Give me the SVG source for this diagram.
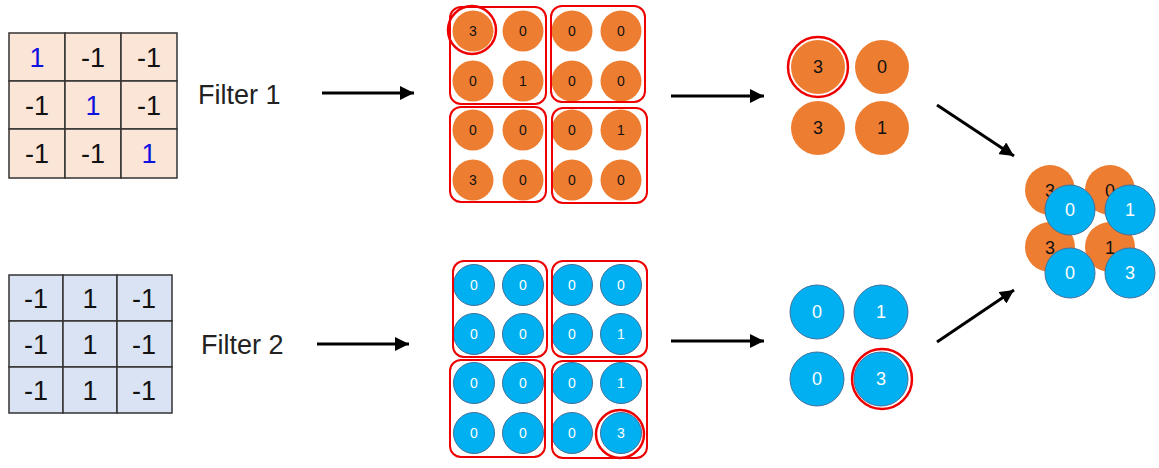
<svg xmlns="http://www.w3.org/2000/svg" width="1159" height="468" viewBox="0 0 1159 468">
<defs>
<style>
.g1 rect{fill:#FBE5D6;stroke:#333;stroke-width:1.5}
.g2 rect{fill:#DAE3F3;stroke:#333;stroke-width:1.5}
.gt{font-family:"Liberation Sans",Arial,sans-serif;font-size:27px;text-anchor:middle;fill:#111}
.gb{fill:#1010E0}
.lbl{font-family:"Liberation Sans",Arial,sans-serif;font-size:27px;fill:#222}
.oc{fill:#ED7D31}
.bc{fill:#00B0F0;stroke:#41719C;stroke-width:1}
.ct{font-family:"Liberation Sans",Arial,sans-serif;font-size:14px;text-anchor:middle;dominant-baseline:central}
.ctb{font-family:"Liberation Sans",Arial,sans-serif;font-size:18px;text-anchor:middle;dominant-baseline:central}
.dk{fill:#111}
.wh{fill:#fff}
.box{fill:none;stroke:#E00;stroke-width:2}
.ring{fill:none;stroke:#E00;stroke-width:2.5}
.arr{stroke:#000;stroke-width:3;fill:none;marker-end:url(#ah)}
</style>
<marker id="ah" markerUnits="userSpaceOnUse" markerWidth="16" markerHeight="14" refX="14" refY="7" orient="auto">
<path d="M0,0 L14,7 L0,14 Z" fill="#000"/>
</marker>
</defs>

<g id="filter1">
<g class="g1">
<rect x="9" y="33" width="56" height="48"/><rect x="65" y="33" width="56" height="48"/><rect x="121" y="33" width="56" height="48"/>
<rect x="9" y="81" width="56" height="48"/><rect x="65" y="81" width="56" height="48"/><rect x="121" y="81" width="56" height="48"/>
<rect x="9" y="129" width="56" height="49"/><rect x="65" y="129" width="56" height="49"/><rect x="121" y="129" width="56" height="49"/>
</g>
<text class="gt gb" x="37" y="67">1</text><text class="gt" x="93" y="67">-1</text><text class="gt" x="149" y="67">-1</text>
<text class="gt" x="37" y="115">-1</text><text class="gt gb" x="93" y="115">1</text><text class="gt" x="149" y="115">-1</text>
<text class="gt" x="37" y="163">-1</text><text class="gt" x="93" y="163">-1</text><text class="gt gb" x="149" y="163">1</text>
</g>
<g id="filter2">
<g class="g2">
<rect x="9" y="275" width="54" height="46"/><rect x="63" y="275" width="54" height="46"/><rect x="117" y="275" width="55" height="46"/>
<rect x="9" y="321" width="54" height="46"/><rect x="63" y="321" width="54" height="46"/><rect x="117" y="321" width="55" height="46"/>
<rect x="9" y="367" width="54" height="46"/><rect x="63" y="367" width="54" height="46"/><rect x="117" y="367" width="55" height="46"/>
</g>
<text class="gt" x="36" y="308">-1</text><text class="gt" x="90" y="308">1</text><text class="gt" x="144" y="308">-1</text>
<text class="gt" x="36" y="354">-1</text><text class="gt" x="90" y="354">1</text><text class="gt" x="144" y="354">-1</text>
<text class="gt" x="36" y="400">-1</text><text class="gt" x="90" y="400">1</text><text class="gt" x="144" y="400">-1</text>
</g>
<g id="label1"><text class="lbl" x="198" y="104">Filter 1</text></g>
<g id="label2"><text class="lbl" x="201" y="354">Filter 2</text></g>

<g id="conv1">
<circle class="oc" cx="473" cy="31" r="20.5"/><circle class="oc" cx="523" cy="31" r="20.5"/><circle class="oc" cx="572" cy="31" r="20.5"/><circle class="oc" cx="621" cy="31" r="20.5"/>
<circle class="oc" cx="473" cy="81" r="20.5"/><circle class="oc" cx="523" cy="81" r="20.5"/><circle class="oc" cx="572" cy="81" r="20.5"/><circle class="oc" cx="621" cy="81" r="20.5"/>
<circle class="oc" cx="473" cy="130" r="20.5"/><circle class="oc" cx="523" cy="130" r="20.5"/><circle class="oc" cx="572" cy="130" r="20.5"/><circle class="oc" cx="621" cy="130" r="20.5"/>
<circle class="oc" cx="473" cy="180" r="20.5"/><circle class="oc" cx="523" cy="180" r="20.5"/><circle class="oc" cx="572" cy="180" r="20.5"/><circle class="oc" cx="621" cy="180" r="20.5"/>
<g class="ct dk">
<text x="473" y="31">3</text><text x="523" y="31">0</text><text x="572" y="31">0</text><text x="621" y="31">0</text>
<text x="473" y="81">0</text><text x="523" y="81">1</text><text x="572" y="81">0</text><text x="621" y="81">0</text>
<text x="473" y="130">0</text><text x="523" y="130">0</text><text x="572" y="130">0</text><text x="621" y="130">1</text>
<text x="473" y="180">3</text><text x="523" y="180">0</text><text x="572" y="180">0</text><text x="621" y="180">0</text>
</g>
<rect class="box" x="450" y="7" width="96" height="97" rx="11"/>
<rect class="box" x="551" y="6" width="94" height="96" rx="11"/>
<rect class="box" x="450" y="107" width="96" height="95" rx="11"/>
<rect class="box" x="552" y="108" width="95" height="95" rx="11"/>
<circle class="ring" cx="472" cy="30" r="24"/>
</g>

<g id="conv2">
<circle class="bc" cx="474" cy="285" r="20.5"/><circle class="bc" cx="523" cy="285" r="20.5"/><circle class="bc" cx="572" cy="285" r="20.5"/><circle class="bc" cx="621" cy="285" r="20.5"/>
<circle class="bc" cx="474" cy="334" r="20.5"/><circle class="bc" cx="523" cy="334" r="20.5"/><circle class="bc" cx="572" cy="334" r="20.5"/><circle class="bc" cx="621" cy="334" r="20.5"/>
<circle class="bc" cx="474" cy="383" r="20.5"/><circle class="bc" cx="523" cy="383" r="20.5"/><circle class="bc" cx="572" cy="383" r="20.5"/><circle class="bc" cx="621" cy="383" r="20.5"/>
<circle class="bc" cx="474" cy="433" r="20.5"/><circle class="bc" cx="523" cy="433" r="20.5"/><circle class="bc" cx="572" cy="433" r="20.5"/><circle class="bc" cx="621" cy="433" r="20.5"/>
<g class="ct wh">
<text x="474" y="285">0</text><text x="523" y="285">0</text><text x="572" y="285">0</text><text x="621" y="285">0</text>
<text x="474" y="334">0</text><text x="523" y="334">0</text><text x="572" y="334">0</text><text x="621" y="334">1</text>
<text x="474" y="383">0</text><text x="523" y="383">0</text><text x="572" y="383">0</text><text x="621" y="383">1</text>
<text x="474" y="433">0</text><text x="523" y="433">0</text><text x="572" y="433">0</text><text x="621" y="433">3</text>
</g>
<rect class="box" x="453" y="261" width="94" height="96" rx="11"/>
<rect class="box" x="552" y="261" width="95" height="96" rx="11"/>
<rect class="box" x="450" y="360" width="95" height="97" rx="11"/>
<rect class="box" x="552" y="361" width="95" height="97" rx="11"/>
<circle class="ring" cx="620" cy="434" r="24"/>
</g>

<g id="pool1">
<circle class="oc" cx="818" cy="67" r="27"/><circle class="oc" cx="882" cy="67" r="27"/>
<circle class="oc" cx="818" cy="128" r="27"/><circle class="oc" cx="882" cy="128" r="27"/>
<g class="ctb dk"><text x="818" y="67">3</text><text x="882" y="67">0</text><text x="818" y="128">3</text><text x="882" y="128">1</text></g>
<circle class="ring" cx="818" cy="67" r="30"/>
</g>

<g id="pool2">
<circle class="bc" cx="817" cy="312" r="27"/><circle class="bc" cx="881" cy="312" r="27"/>
<circle class="bc" cx="817" cy="379" r="27"/><circle class="bc" cx="881" cy="379" r="27"/>
<g class="ctb wh"><text x="817" y="312">0</text><text x="881" y="312">1</text><text x="817" y="379">0</text><text x="881" y="379">3</text></g>
<circle class="ring" cx="882" cy="379" r="30"/>
</g>

<g id="combined">
<circle class="oc" cx="1050" cy="190" r="25"/><circle class="oc" cx="1110" cy="190" r="25"/>
<circle class="oc" cx="1050" cy="247" r="25"/><circle class="oc" cx="1110" cy="247" r="25"/>
<g class="ctb dk"><text x="1050" y="191">3</text><text x="1110" y="191">0</text><text x="1050" y="248">3</text><text x="1110" y="248">1</text></g>
<circle class="bc" cx="1070" cy="210" r="25"/><circle class="bc" cx="1130" cy="210" r="25"/>
<circle class="bc" cx="1070" cy="273" r="25"/><circle class="bc" cx="1130" cy="273" r="25"/>
<g class="ctb wh"><text x="1070" y="210">0</text><text x="1130" y="210">1</text><text x="1070" y="273">0</text><text x="1130" y="273">3</text></g>
</g>

<g id="connectors">
<line class="arr" x1="322" y1="93" x2="414" y2="93"/>
<line class="arr" x1="317" y1="344" x2="409" y2="344"/>
<line class="arr" x1="671" y1="96" x2="764" y2="96"/>
<line class="arr" x1="671" y1="341" x2="764" y2="341"/>
<line class="arr" x1="937" y1="105" x2="1014" y2="156"/>
<line class="arr" x1="937" y1="342" x2="1014" y2="290"/>
</g>
</svg>
